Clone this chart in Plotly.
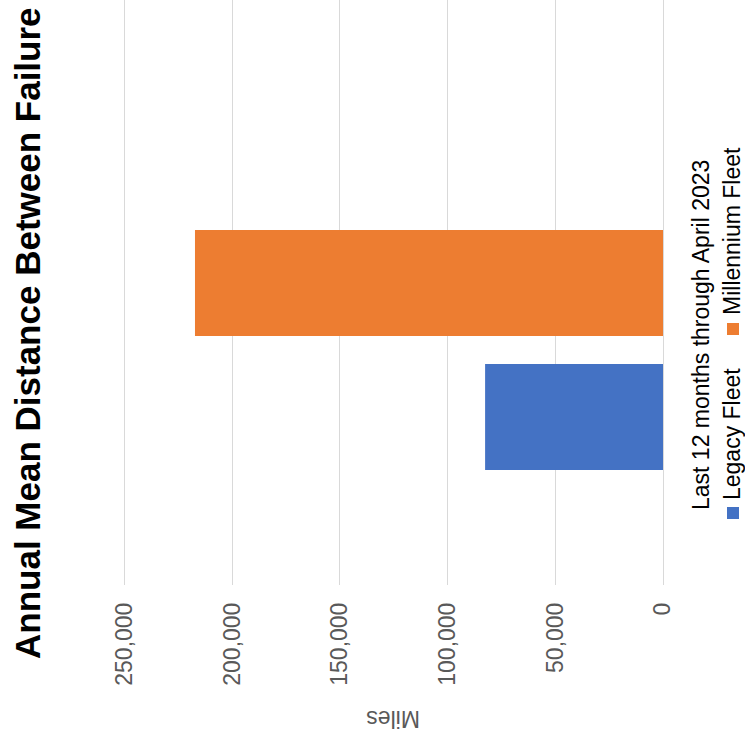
import plotly.graph_objects as go

# Data
category = "Last 12 months through April 2023"
series_names = ["Legacy Fleet", "Millennium Fleet"]
series_values = [82600, 217300]
series_colors = ["#4472C4", "#ED7D31"]
tick_values = [0, 50000, 100000, 150000, 200000, 250000]

W, H = 745, 742
ML, MR, MT, MB = 100, 82, 0, 157
PW, PH = W - ML - MR, H - MT - MB

FONT = "Liberation Sans, Arial, sans-serif"


def px(x):
    return (x - ML) / PW


def py(y):
    return (MT + PH - y) / PH


fig = go.Figure()
for name, val, col in zip(series_names, series_values, series_colors):
    fig.add_trace(go.Bar(
        y=[category], x=[val], name=name, orientation="h",
        marker=dict(color=col, line=dict(width=0)),
        showlegend=False, hoverinfo="x+name",
    ))

# vertical category scale: group centred ~350px from the top
unit = 335.0
centre = 350.0
y_hi = (centre - MT) / unit
y_lo = -(MT + PH - centre) / unit

fig.update_layout(
    width=W, height=H,
    margin=dict(l=ML, r=MR, t=MT, b=MB, pad=0),
    paper_bgcolor="white", plot_bgcolor="white",
    barmode="group", bargap=0.2, bargroupgap=0.209,
    font=dict(family=FONT, size=23, color="#595959"),
    xaxis=dict(
        range=[261400, 0], tickvals=tick_values, tickformat=",",
        tickangle=-90, ticklabelstandoff=12,
        showgrid=True, gridcolor="#D9D9D9", gridwidth=1,
        zeroline=True, zerolinecolor="#D9D9D9", zerolinewidth=1,
        showline=False, ticks="",
        tickfont=dict(family=FONT, size=23, color="#595959"),
    ),
    yaxis=dict(
        type="category", range=[y_lo, y_hi],
        showticklabels=False, showgrid=False, zeroline=False, showline=False,
    ),
)

annotations = [
    # title
    dict(text="<b>Annual Mean Distance Between Failure</b>", x=px(27), y=py(333),
         textangle=-90, font=dict(family=FONT, size=35, color="black")),
    # axis title
    dict(text="Miles", x=px(393), y=py(719), textangle=180,
         font=dict(family=FONT, size=23, color="#595959")),
    # category label
    dict(text=category, x=px(701), y=py(335), textangle=-90,
         font=dict(family=FONT, size=23, color="black")),
]
legend_y = [502, 317]
legend_sq = [507, 323]
shapes = []
for name, col, ty, sy in zip(series_names, series_colors, legend_y, legend_sq):
    annotations.append(dict(text=name, x=px(732), y=py(ty), yanchor="bottom",
                            textangle=-90,
                            font=dict(family=FONT, size=23, color="black")))
    shapes.append(dict(type="rect", xref="paper", yref="paper",
                       x0=px(727), x1=px(739), y0=py(sy), y1=py(sy + 12),
                       fillcolor=col, line=dict(width=0)))

for a in annotations:
    a.update(xref="paper", yref="paper", showarrow=False)
    a.setdefault("xanchor", "center")
    a.setdefault("yanchor", "middle")

fig.update_layout(annotations=annotations, shapes=shapes)

fig.write_html("out.html")
